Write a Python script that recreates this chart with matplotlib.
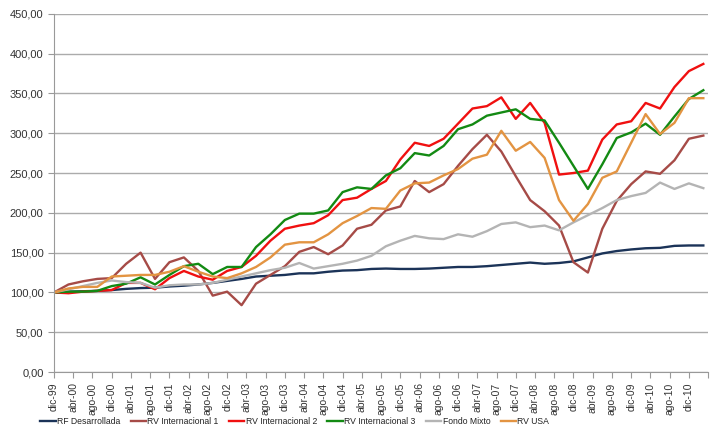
import numpy as np
import matplotlib
matplotlib.use("Agg")
import matplotlib.pyplot as plt
from matplotlib.ticker import FuncFormatter

# quarterly index values, dic-99 .. mar-11
rf_desarrollada = [100, 101, 101.5, 102, 103, 104.5, 105.5, 106, 107.5, 108.5,
                   110, 112, 114.5, 117, 120, 121, 122, 124, 124, 126,
                   127.5, 128, 129.5, 130, 129.5, 129.5, 130, 131, 132, 132,
                   133, 134.5, 136, 137.5, 136, 137, 139, 144, 149, 152,
                   154, 155.5, 156, 158.5, 159, 159]
rv_int_1 = [100, 110, 114, 117, 118, 136, 150, 117, 138, 144,
            127, 96, 101, 84, 111, 122, 133, 151, 157, 148,
            159, 180, 185, 203, 208, 240, 226, 236, 259, 280,
            298, 277, 246, 216, 202, 184, 138, 125, 180, 215,
            236, 252, 249, 266, 293, 297]
rv_int_2 = [100, 99, 101, 102, 103, 112, 112, 104, 118, 127,
            120, 116, 127, 132, 146, 165, 180, 184, 187, 197,
            216, 219, 230, 240, 267, 288, 284, 293, 312, 331,
            334, 345, 318, 338, 313, 248, 250, 253, 292, 311,
            315, 338, 331, 358, 378, 387]
rv_int_3 = [100, 101, 101, 102, 108, 111, 119, 110, 122, 133,
            136, 123, 132, 132, 157, 173, 191, 199, 199, 203,
            226, 232, 230, 247, 256, 275, 272, 284, 305, 311,
            322, 326, 330, 318, 316, 288, 259, 230, 261, 294,
            301, 312, 298, 321, 343, 354]
fondo_mixto = [100, 104, 108, 112, 115, 113, 112, 106, 109, 110,
               110, 112, 116, 120, 124, 128, 131, 137, 130, 133,
               136, 140, 146, 158, 165, 171, 168, 167, 173, 170,
               177, 186, 188, 182, 184, 178, 188, 197, 206, 216,
               221, 225, 238, 230, 237, 231]
rv_usa = [100, 105, 107, 107, 120, 121, 122, 122, 126, 133,
          126, 120, 118, 124, 132, 144, 160, 163, 163, 173,
          187, 196, 206, 205, 228, 237, 238, 247, 255, 268,
          273, 303, 278, 289, 269, 216, 190, 211, 244, 252,
          288, 324, 299, 313, 344, 344]

series_names = ["RF Desarrollada", "RV Internacional 1", "RV Internacional 2",
                "RV Internacional 3", "Fondo Mixto", "RV USA"]
series_colors = ["#1B3358", "#A64B47", "#F01010", "#138A13", "#B4B4B4", "#E39442"]

month_names = ["dic", "abr", "ago"]
tick_labels = ["%s-%02d" % (month_names[i % 3], (99 + (i + 2) // 3) % 100)
               for i in range(34)]

plt.rcParams['font.family'] = ['Liberation Sans', 'DejaVu Sans']

fig = plt.figure(figsize=(7.22, 4.44), dpi=100)
ax = fig.add_axes([0.0748, 0.162, 0.906, 0.807])

months = np.arange(len(rf_desarrollada)) * 3
all_series = [rf_desarrollada, rv_int_1, rv_int_2, rv_int_3, fondo_mixto, rv_usa]
for vals, name, col in zip(all_series, series_names, series_colors):
    ax.plot(months, vals, color=col, lw=1.7, label=name)

ax.set_xlim(0, 136)
ax.set_ylim(0, 450)
ax.set_yticks(np.arange(0, 451, 50))
ax.yaxis.set_major_formatter(FuncFormatter(lambda v, p: ("%.2f" % v).replace(".", ",")))
ax.set_xticks(np.arange(0, 137, 4))
ax.set_xticklabels(tick_labels + [""], rotation=90, fontsize=7.5, color="#333333")
ax.tick_params(axis='y', labelsize=8, length=4, color="#999999", labelcolor="#333333")
ax.tick_params(axis='x', length=4, color="#999999")
ax.grid(axis='y', color="#ABABAB", lw=1)
ax.set_axisbelow(True)
for s in ["top", "right"]:
    ax.spines[s].set_visible(False)
ax.spines["left"].set_color("#999999")
ax.spines["bottom"].set_color("#999999")

fig.legend(loc="center left", bbox_to_anchor=(0.045, 0.05), ncol=6, frameon=False,
           fontsize=6.2, handlelength=1.8, handletextpad=0.15,
           columnspacing=1.2, labelcolor="#222222")

fig.savefig("out.png", dpi=100)
